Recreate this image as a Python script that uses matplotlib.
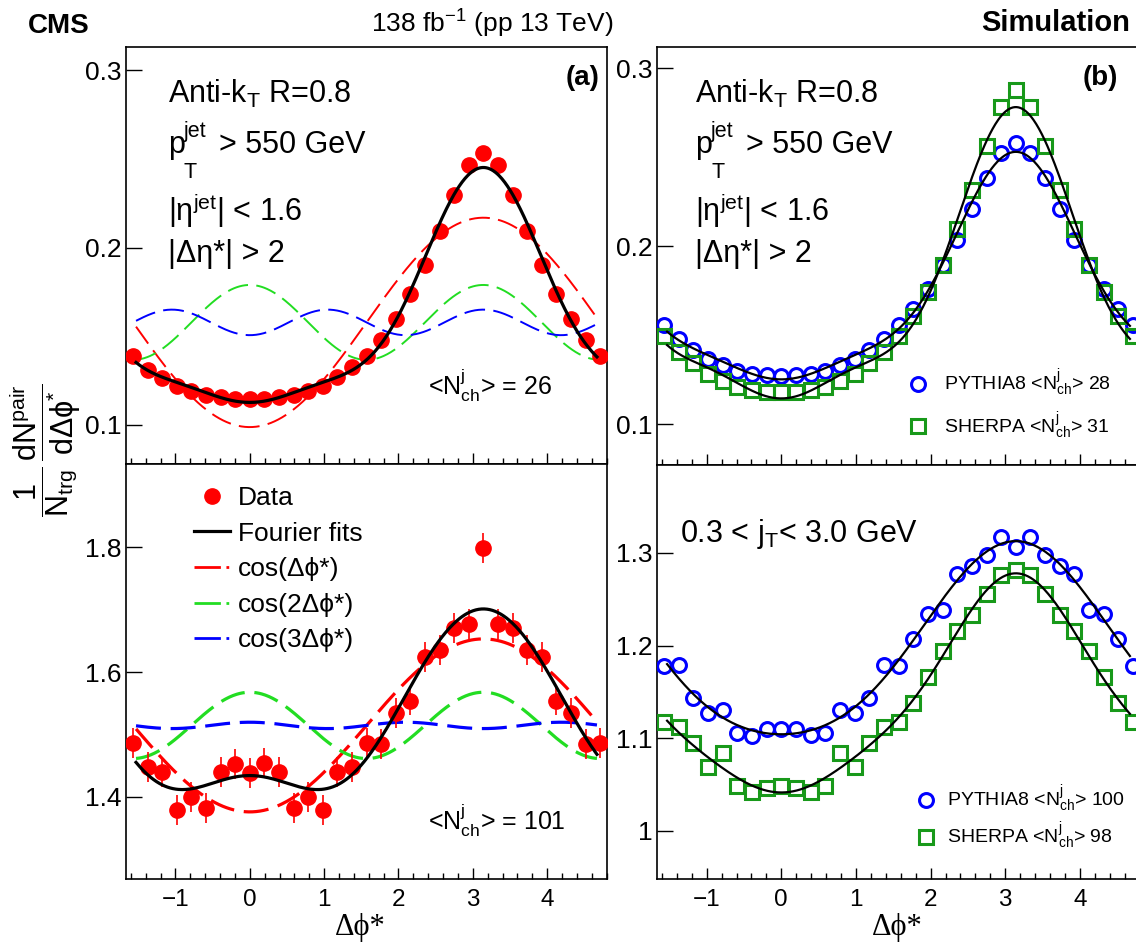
import numpy as np
import matplotlib
matplotlib.use('Agg')
import matplotlib.pyplot as plt
from matplotlib.lines import Line2D
from matplotlib.ticker import FixedLocator, MultipleLocator, FormatStrFormatter

plt.rcParams['font.family'] = ['Liberation Sans', 'DejaVu Sans']
plt.rcParams['mathtext.fontset'] = 'custom'
plt.rcParams['mathtext.rm'] = 'Liberation Sans'
plt.rcParams['mathtext.it'] = 'Liberation Sans:italic'
plt.rcParams['mathtext.bf'] = 'Liberation Sans:bold'
plt.rcParams['mathtext.default'] = 'regular'
plt.rcParams['lines.scale_dashes'] = False

# ---------------- data ----------------
bin_index = np.arange(-8, 25)              # bins of width pi/16
dphi = bin_index * np.pi / 16.0

data_a_top = [0.139, 0.131, 0.1264, 0.1221, 0.1189, 0.1168, 0.1155, 0.1146,
              0.1146,
              0.1146, 0.1155, 0.1168, 0.1189, 0.1221, 0.1268, 0.1324, 0.139,
              0.148, 0.1597, 0.1737, 0.190, 0.2094, 0.2297, 0.2464,
              0.253,
              0.2464, 0.2297, 0.2094, 0.190, 0.1737, 0.1597, 0.148, 0.139]

data_a_bot = [1.4859, 1.4483, 1.4392, 1.3786, 1.399, 1.3813, 1.4392, 1.4526,
              1.4376,
              1.4537, 1.4392, 1.3813, 1.399, 1.3786, 1.4392, 1.4483, 1.4859,
              1.4848, 1.535, 1.5544, 1.6241, 1.6348, 1.6707, 1.6771,
              1.7994,
              1.6771, 1.6707, 1.6348, 1.6241, 1.5544, 1.535, 1.4848, 1.4859]
err_a_bot = 0.024

pythia_top = [0.1555, 0.148, 0.1418, 0.1367, 0.133, 0.1301, 0.1283, 0.1277,
              0.1273,
              0.1277, 0.1283, 0.1301, 0.133, 0.1367, 0.1418, 0.148, 0.1555,
              0.1649, 0.1762, 0.1897, 0.2034, 0.2207, 0.2385, 0.2526,
              0.2582,
              0.2526, 0.2385, 0.2207, 0.2034, 0.1897, 0.1762, 0.1649, 0.1555]
sherpa_top = [0.1493, 0.1405, 0.1343, 0.1283, 0.1241, 0.1207, 0.1189, 0.1183,
              0.1183,
              0.1183, 0.1191, 0.1207, 0.1241, 0.1283, 0.1343, 0.1405, 0.1493,
              0.1606, 0.1740, 0.1893, 0.2094, 0.2315, 0.2563, 0.2785,
              0.2879,
              0.2785, 0.2563, 0.2315, 0.2094, 0.1893, 0.1740, 0.1606, 0.1493]
pythia_bot = [1.1782, 1.1792, 1.1439, 1.1277, 1.1306, 1.106, 1.1025, 1.1104,
              1.1104,
              1.1104, 1.1032, 1.106, 1.1306, 1.1277, 1.1439, 1.1792, 1.1782,
              1.2074, 1.2344, 1.238, 1.2776, 1.2856, 1.2982, 1.3173,
              1.3061,
              1.3173, 1.2982, 1.2856, 1.2776, 1.238, 1.2344, 1.2074, 1.1782]
sherpa_bot = [1.1180, 1.1126, 1.0946, 1.0693, 1.0838, 1.0488, 1.0423, 1.0459,
              1.0484,
              1.0459, 1.0423, 1.0488, 1.0838, 1.0693, 1.0946, 1.1126, 1.1180,
              1.1378, 1.1666, 1.1944, 1.2153, 1.2333, 1.2557, 1.2765,
              1.282,
              1.2765, 1.2557, 1.2333, 1.2153, 1.1944, 1.1666, 1.1378, 1.1180]

# Fourier coefficients (c0, c1, c2, c3) of the data fits in panel (a)
coef_a_top = [0.1578, -0.0590, 0.0211, -0.0072]
coef_a_bot = [1.5145, -0.1388, 0.0532, 0.0051]

xticks = [-1, 0, 1, 2, 3, 4]
yticks_top = [0.1, 0.2, 0.3]
yticks_a_bot = [1.4, 1.6, 1.8]
yticks_b_bot = [1.0, 1.1, 1.2, 1.3]

# ---------------- helpers ----------------
W, H = 1136, 942
fig = plt.figure(figsize=(W / 100, H / 100), dpi=100)


def fx(x):
    return x / W


def fy(y):
    return 1 - y / H


def add_ax(x0, x1, y0, y1):
    return fig.add_axes([fx(x0), fy(y1), (x1 - x0) / W, (y1 - y0) / H])


def fourier(c, phi):
    return c[0] + c[1] * np.cos(phi) + c[2] * np.cos(2 * phi) + c[3] * np.cos(3 * phi)


def lsq_fourier(y):
    A = np.column_stack([np.ones_like(dphi), np.cos(dphi), np.cos(2 * dphi), np.cos(3 * dphi)])
    c, *_ = np.linalg.lstsq(A, np.asarray(y), rcond=None)
    return c


def style(ax, ylim, yticks, xlabels):
    ax.set_xlim(-1.665, 4.805)
    ax.set_ylim(*ylim)
    ax.xaxis.set_major_locator(FixedLocator(xticks))
    ax.xaxis.set_minor_locator(MultipleLocator(0.2))
    ax.yaxis.set_major_locator(FixedLocator(yticks))
    ax.yaxis.set_major_formatter(FormatStrFormatter('%g'))
    ax.tick_params(axis='x', which='major', direction='in', length=8, width=1,
                   labelsize=17.5, pad=7, top=False, labelbottom=xlabels)
    ax.tick_params(axis='x', which='minor', direction='in', length=4, width=1, top=False)
    ax.tick_params(axis='y', which='major', direction='in', length=11.5, width=1,
                   labelsize=19, pad=3, right=False)
    for s in ax.spines.values():
        s.set_linewidth(1.2)


phi_fine = np.linspace(-1.53, 4.67, 500)
RED, GREEN_L, BLUE = '#ff0000', '#22dd22', '#0000ff'
GREEN = '#18991a'

# ---------------- axes ----------------
ax_at = add_ax(126, 607, 47, 464)
ax_ab = add_ax(126, 607, 464, 879)
ax_bt = add_ax(657, 1140, 47, 465)
ax_bb = add_ax(657, 1140, 465, 879)

style(ax_at, (0.078, 0.313), yticks_top, False)
style(ax_ab, (1.268, 1.934), yticks_a_bot, True)
style(ax_bt, (0.077, 0.312), yticks_top, False)
style(ax_bb, (0.948, 1.395), yticks_b_bot, True)

# ---------------- panel (a) top ----------------
c = coef_a_top
dash_top = (15, 6)
ax_at.plot(phi_fine, c[0] + c[1] * np.cos(phi_fine), color=RED, lw=1.4, dashes=dash_top)
ax_at.plot(phi_fine, c[0] + c[2] * np.cos(2 * phi_fine), color=GREEN_L, lw=1.4, dashes=dash_top)
ax_at.plot(phi_fine, c[0] + c[3] * np.cos(3 * phi_fine), color=BLUE, lw=1.4, dashes=dash_top)
ax_at.plot(dphi, data_a_top, 'o', color=RED, ms=11, zorder=3)
ax_at.plot(phi_fine, fourier(c, phi_fine), color='black', lw=2.3, zorder=4)

# ---------------- panel (a) bottom ----------------
c = coef_a_bot
dash_bot = (18, 7)
ax_ab.plot(phi_fine, c[0] + c[1] * np.cos(phi_fine), color=RED, lw=2.3, dashes=dash_bot)
ax_ab.plot(phi_fine, c[0] + c[2] * np.cos(2 * phi_fine), color=GREEN_L, lw=2.3, dashes=dash_bot)
ax_ab.plot(phi_fine, c[0] + c[3] * np.cos(3 * phi_fine), color=BLUE, lw=2.3, dashes=dash_bot)
ax_ab.errorbar(dphi, data_a_bot, yerr=err_a_bot, fmt='o', color=RED, ms=11,
               elinewidth=1.2, capsize=0, zorder=3)
ax_ab.plot(phi_fine, fourier(c, phi_fine), color='black', lw=2.3, zorder=4)

leg_handles = [
    Line2D([], [], marker='o', ls='none', color=RED, ms=11),
    Line2D([], [], color='black', lw=2.3),
    Line2D([], [], color=RED, lw=2.0, dashes=(19, 4, 2, 10)),
    Line2D([], [], color=GREEN_L, lw=2.0, dashes=(19, 4, 2, 10)),
    Line2D([], [], color=BLUE, lw=2.0, dashes=(19, 4, 2, 10)),
]
leg_labels = ['Data', 'Fourier fits', 'cos(Δϕ*)', 'cos(2Δϕ*)', 'cos(3Δϕ*)']
ax_ab.legend(leg_handles, leg_labels, loc='upper left',
             bbox_to_anchor=(fx(194), fy(486)), bbox_transform=fig.transFigure,
             frameon=False, fontsize=19, handlelength=1.36, handletextpad=0.3,
             labelspacing=0.44, borderpad=0, borderaxespad=0)

# ---------------- panel (b) top ----------------
for y, col, mk in [(pythia_top, BLUE, 'o'), (sherpa_top, GREEN, 's')]:
    ax_bt.plot(dphi, y, mk, mfc='none', mec=col, mew=2.2, ms=10, zorder=3)
for y in (pythia_top, sherpa_top):
    ax_bt.plot(phi_fine, fourier(lsq_fourier(y), phi_fine), color='black', lw=1.6, zorder=4)

h_bt = [Line2D([], [], marker='o', ls='none', mfc='none', mec=BLUE, mew=2.2, ms=10),
        Line2D([], [], marker='s', ls='none', mfc='none', mec=GREEN, mew=2.2, ms=10)]
ax_bt.legend(h_bt, [r'PYTHIA8 <N$_{ch}^{j}$> 28', r'SHERPA <N$_{ch}^{j}$> 31'],
             loc='upper left', bbox_to_anchor=(fx(908.3), fy(368)),
             bbox_transform=fig.transFigure, frameon=False, fontsize=14,
             handlelength=1.0, handletextpad=0.85, labelspacing=0.6,
             borderpad=0, borderaxespad=0)

# ---------------- panel (b) bottom ----------------
for y, col, mk in [(pythia_bot, BLUE, 'o'), (sherpa_bot, GREEN, 's')]:
    ax_bb.plot(dphi, y, mk, mfc='none', mec=col, mew=2.2, ms=10, zorder=3)
for y in (pythia_bot, sherpa_bot):
    ax_bb.plot(phi_fine, fourier(lsq_fourier(y), phi_fine), color='black', lw=1.6, zorder=4)

ax_bb.legend(h_bt, [r'PYTHIA8 <N$_{ch}^{j}$> 100', r'SHERPA <N$_{ch}^{j}$> 98'],
             loc='upper left', bbox_to_anchor=(fx(916.3), fy(784)),
             bbox_transform=fig.transFigure, frameon=False, fontsize=14,
             handlelength=1.0, handletextpad=0.6, labelspacing=0.3,
             borderpad=0, borderaxespad=0)

# ---------------- texts ----------------
fig.text(fx(28), fy(33), 'CMS', fontsize=20, fontweight='bold', va='baseline')
fig.text(fx(613), fy(33), r'138 fb$^{-1}$ (pp 13 TeV)', fontsize=19, ha='right', va='baseline')
fig.text(fx(1130), fy(31), 'Simulation', fontsize=21, fontweight='bold', ha='right', va='baseline')

fig.text(fx(583), fy(85), '(a)', fontsize=20, fontweight='bold', ha='center', va='baseline')
fig.text(fx(1100), fy(85), '(b)', fontsize=20, fontweight='bold', ha='center', va='baseline')

for x0 in (168, 695):
    fig.text(fx(x0), fy(103), r'Anti-k$_{T}$ R=0.8', fontsize=22, va='baseline')
    # p_T^jet with a ROOT-like deep subscript
    fig.text(fx(x0), fy(153), 'p', fontsize=22, va='baseline')
    fig.text(fx(x0 + 16), fy(137), 'jet', fontsize=15.5, va='baseline')
    fig.text(fx(x0 + 16), fy(178), 'T', fontsize=15.5, va='baseline')
    fig.text(fx(x0 + 51), fy(153), '> 550 GeV', fontsize=22, va='baseline')
    fig.text(fx(x0), fy(221), r'|η$^{jet}$| < 1.6', fontsize=22, va='baseline')
    fig.text(fx(x0), fy(262), '|Δη*| > 2', fontsize=22, va='baseline')

fig.text(fx(428), fy(395), r'<N$_{ch}^{j}$> = 26', fontsize=18, va='baseline')
fig.text(fx(428), fy(830), r'<N$_{ch}^{j}$> = 101', fontsize=18, va='baseline')
fig.text(fx(680), fy(542), r'0.3 < j$_{T}$< 3.0 GeV', fontsize=22, va='baseline')

fig.text(fx(45), fy(450), r'$\dfrac{1}{N_{trg}}\,\dfrac{dN^{pair}}{d\Delta\phi^{*}}$',
         fontsize=22, rotation=90, ha='center', va='center')
for xc in (360, 897):
    fig.text(fx(xc), fy(928), 'Δϕ*', fontsize=22, ha='center', va='center',
             family=['Liberation Serif', 'DejaVu Serif'])

fig.savefig('out.png', dpi=100)
